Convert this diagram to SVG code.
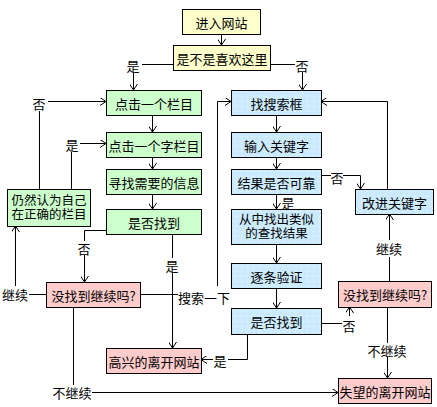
<svg xmlns="http://www.w3.org/2000/svg" width="437" height="407" viewBox="0 0 437 407">
<style>
.box{stroke:#000;stroke-width:1}
.y{fill:#FFFFCC}.g{fill:#CCFFCC}.b{fill:url(#dots)}.p{fill:#FFCCCC}
text{font-family:"Noto Sans CJK SC","Noto Sans CJK TC",sans-serif;font-size:13px;fill:#000;text-anchor:middle;dominant-baseline:central}
text.s{font-size:12.5px;font-family:"Liberation Sans","Noto Sans CJK SC",sans-serif}
.c line,.c polyline{stroke:#000;stroke-width:1;fill:none}
.a{marker-end:url(#arr)}
</style>
<defs>
<marker id="arr" markerUnits="userSpaceOnUse" viewBox="0 0 6 8" markerWidth="6" markerHeight="8" refX="6" refY="4" orient="auto">
<path d="M0,0 L6,4 L0,8" fill="none" stroke="#000" stroke-width="1"/>
</marker>
<pattern id="dots" patternUnits="userSpaceOnUse" width="6" height="5">
<rect width="6" height="5" fill="#CCEBFF"/>
<rect x="1" y="1" width="1" height="1" fill="#E8F6FF"/>
<rect x="4" y="3" width="1" height="1" fill="#B8DDF5"/>
</pattern>
</defs>
<g class="c" id="connectors">
<line class="a" x1="221.5" y1="34" x2="221.5" y2="45"/>
<line x1="173" y1="64.5" x2="142" y2="64.5"/>
<line class="a" x1="133.5" y1="72" x2="133.5" y2="90"/>
<line x1="270" y1="64.5" x2="295" y2="64.5"/>
<line class="a" x1="302.5" y1="72" x2="302.5" y2="90"/>
<line class="a" x1="48" y1="101.5" x2="106" y2="101.5"/>
<line x1="39.5" y1="111" x2="39.5" y2="189"/>
<line class="a" x1="80" y1="143.5" x2="106" y2="143.5"/>
<line x1="71.5" y1="152" x2="71.5" y2="189"/>
<line class="a" x1="152.5" y1="115" x2="152.5" y2="132"/>
<line class="a" x1="152.5" y1="157" x2="152.5" y2="169"/>
<line class="a" x1="152.5" y1="194" x2="152.5" y2="209"/>
<polyline points="106,230.5 84.5,230.5 84.5,241"/>
<line class="a" x1="84.5" y1="255" x2="84.5" y2="282"/>
<line x1="172.5" y1="234" x2="172.5" y2="258"/>
<line class="a" x1="172.5" y1="272" x2="172.5" y2="348"/>
<line x1="46" y1="294.5" x2="29" y2="294.5"/>
<line class="a" x1="15.5" y1="286" x2="15.5" y2="226"/>
<line x1="140" y1="294.5" x2="178" y2="294.5"/>
<polyline class="a" points="217.5,286 217.5,101.5 231,101.5"/>
<line x1="73.5" y1="307" x2="73.5" y2="385"/>
<line class="a" x1="92" y1="392.5" x2="338" y2="392.5"/>
<line class="a" x1="276.5" y1="115" x2="276.5" y2="132"/>
<line class="a" x1="276.5" y1="157" x2="276.5" y2="169"/>
<line class="a" x1="276.5" y1="194" x2="276.5" y2="209"/>
<line class="a" x1="276.5" y1="244" x2="276.5" y2="263"/>
<line class="a" x1="276.5" y1="288" x2="276.5" y2="308"/>
<line x1="321" y1="175.5" x2="331" y2="175.5"/>
<polyline class="a" points="343,175.5 360.5,175.5 360.5,189"/>
<polyline class="a" points="387.5,189 387.5,101.5 321,101.5"/>
<line x1="389.5" y1="281" x2="389.5" y2="257"/>
<line class="a" x1="389.5" y1="240" x2="389.5" y2="214"/>
<polyline points="247.5,334 247.5,359.5 228,359.5"/>
<line class="a" x1="213" y1="359.5" x2="201" y2="359.5"/>
<line x1="321" y1="323.5" x2="342" y2="323.5"/>
<line class="a" x1="349.5" y1="316" x2="349.5" y2="307"/>
<line x1="387.5" y1="307" x2="387.5" y2="343"/>
<line class="a" x1="387.5" y1="357" x2="387.5" y2="378"/>
</g>
<g id="labels">
<text x="133" y="65">是</text>
<text x="302" y="65">否</text>
<text x="39" y="103">否</text>
<text x="72" y="144">是</text>
<text x="337" y="177">否</text>
<text x="288" y="202">是</text>
<text x="84" y="248">否</text>
<text x="389" y="248">继续</text>
<text x="172" y="265">是</text>
<text x="15" y="294">继续</text>
<text x="204" y="297">搜索一下</text>
<text x="349" y="325">否</text>
<text x="387" y="350">不继续</text>
<text x="220" y="360">是</text>
<text x="72" y="392">不继续</text>
</g>
<g id="n1"><rect class="box y" x="182.5" y="9.5" width="78" height="25"/><text x="221.5" y="22">进入网站</text></g>
<g id="n2"><rect class="box y" x="173.5" y="45.5" width="97" height="25"/><text x="222" y="58">是不是喜欢这里</text></g>
<g id="n3"><rect class="box g" x="106.5" y="90.5" width="95" height="25"/><text x="154" y="103">点击一个栏目</text></g>
<g id="n4"><rect class="box b" x="231.5" y="90.5" width="90" height="25"/><text x="276.5" y="103">找搜索框</text></g>
<g id="n5"><rect class="box g" x="106.5" y="132.5" width="95" height="25"/><text x="154" y="145">点击一个字栏目</text></g>
<g id="n6"><rect class="box b" x="231.5" y="132.5" width="90" height="25"/><text x="276.5" y="145">输入关键字</text></g>
<g id="n7"><rect class="box g" x="106.5" y="169.5" width="95" height="25"/><text x="154" y="182">寻找需要的信息</text></g>
<g id="n8"><rect class="box b" x="231.5" y="169.5" width="90" height="25"/><text x="276.5" y="182">结果是否可靠</text></g>
<g id="n9"><rect class="box b" x="355.5" y="189.5" width="78" height="25"/><text x="394.5" y="202">改进关键字</text></g>
<g id="n10"><rect class="box g" x="7.5" y="189.5" width="83" height="37"/><text class="s" x="49" y="200.5">仍然认为自己</text><text class="s" x="49" y="215">在正确的栏目</text></g>
<g id="n11"><rect class="box g" x="106.5" y="209.5" width="95" height="25"/><text x="154" y="222">是否找到</text></g>
<g id="n12"><rect class="box b" x="231.5" y="209.5" width="90" height="35"/><text class="s" x="276.5" y="219.5">从中找出类似</text><text class="s" x="276.5" y="234">的查找结果</text></g>
<g id="n13"><rect class="box b" x="231.5" y="263.5" width="90" height="25"/><text x="276.5" y="276">逐条验证</text></g>
<g id="n14"><rect class="box p" x="46.5" y="282.5" width="94" height="25"/><text x="93.5" y="295">没找到继续吗?</text></g>
<g id="n15"><rect class="box p" x="338.5" y="281.5" width="93" height="26"/><text x="385" y="294.5">没找到继续吗?</text></g>
<g id="n16"><rect class="box b" x="231.5" y="308.5" width="90" height="26"/><text x="276.5" y="321.5">是否找到</text></g>
<g id="n17"><rect class="box p" x="106.5" y="348.5" width="95" height="25"/><text x="154" y="361">高兴的离开网站</text></g>
<g id="n18"><rect class="box p" x="338.5" y="378.5" width="93" height="25"/><text x="385" y="391">失望的离开网站</text></g>
</svg>
